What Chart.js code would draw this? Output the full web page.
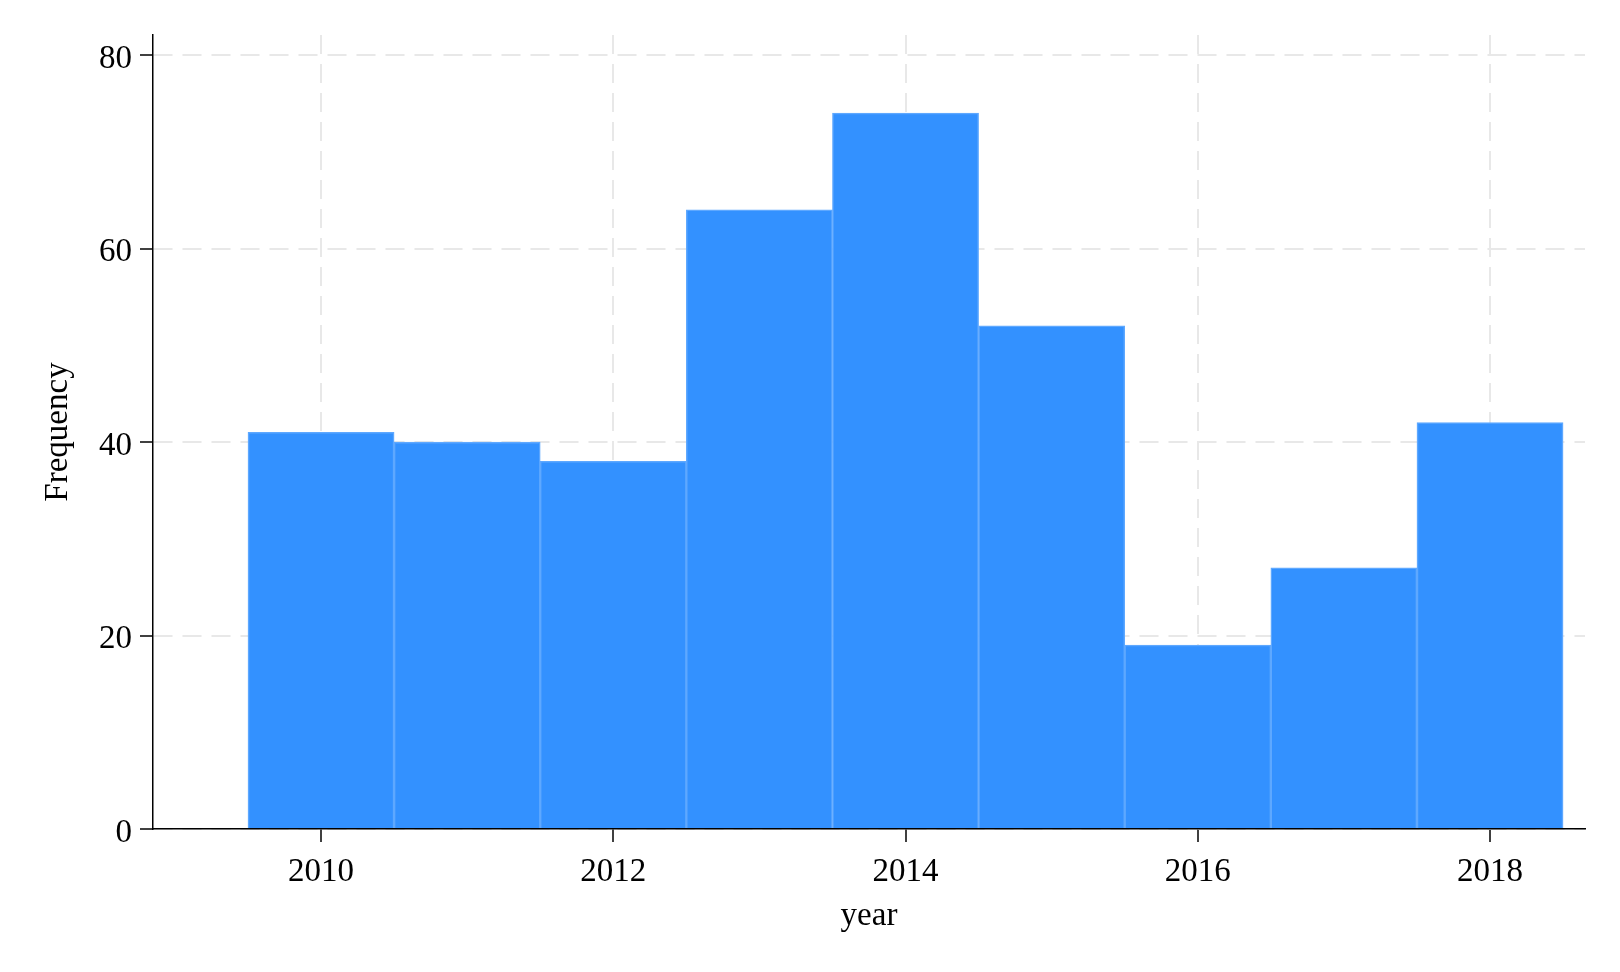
<!DOCTYPE html>
<html>
<head>
<meta charset="utf-8">
<script src="https://cdn.jsdelivr.net/npm/chart.js@4"></script>
<style>
  html, body { margin: 0; padding: 0; background: #fff; }
  #wrap { width: 1620px; height: 972px; }
</style>
</head>
<body>
<div id="wrap"><canvas id="histo" width="1620" height="972"></canvas></div>
<script>
// histogram bins (centre year) and counts
const years = [2010, 2011, 2012, 2013, 2014, 2015, 2016, 2017, 2018];
const counts = [41, 40, 38, 64, 74, 52, 19, 27, 42];
const xTicks = [2010, 2012, 2014, 2016, 2018];
const yTicks = [0, 20, 40, 60, 80];

const serif = "'Liberation Serif', 'DejaVu Serif', serif";
const gridGray = '#e8e8e8';

const ctx = document.getElementById('histo').getContext('2d');

new Chart(ctx, {
    type: 'bar',
    data: {
        datasets: [{
            label: 'Frequency',
            data: years.map((y, i) => ({ x: y, y: counts[i] })),
            backgroundColor: '#3391ff',
            borderColor: '#5ea8ff',
            borderWidth: 1.5,
            barPercentage: 1,
            categoryPercentage: 1
        }]
    },
    options: {
        responsive: false,
        animation: false,
        layout: {
            padding: { top: 35, right: 35, bottom: 0, left: 0 }
        },
        scales: {
            x: {
                type: 'linear',
                offset: false,
                min: 2008.85,
                max: 2018.65,
                afterBuildTicks: (s) => { s.ticks = xTicks.map(v => ({ value: v })); },
                afterFit: (s) => { s.height = 143; },
                border: { color: '#000', width: 1.5, dash: [19, 10] },
                grid: {
                    offset: false,
                    color: gridGray,
                    lineWidth: 2,
                    tickColor: '#000',
                    tickWidth: 1.5,
                    tickLength: 13,
                    tickBorderDash: []
                },
                ticks: {
                    color: '#000',
                    padding: 11,
                    maxRotation: 0,
                    font: { family: serif, size: 33 },
                    callback: (v) => String(v)
                },
                title: {
                    display: true,
                    text: 'year',
                    color: '#000',
                    font: { family: serif, size: 33 },
                    padding: { top: 0, bottom: 36 }
                }
            },
            y: {
                min: 0,
                max: 82.07,
                afterBuildTicks: (s) => { s.ticks = yTicks.map(v => ({ value: v })); },
                afterFit: (s) => { s.width = 153; },
                border: { color: '#000', width: 1.5, dash: [19, 10] },
                grid: {
                    color: gridGray,
                    lineWidth: 2,
                    tickColor: '#000',
                    tickWidth: 1.5,
                    tickLength: 13,
                    tickBorderDash: []
                },
                ticks: {
                    color: '#000',
                    padding: 8,
                    labelOffset: 4,
                    font: { family: serif, size: 33 }
                },
                title: {
                    display: true,
                    text: 'Frequency',
                    color: '#000',
                    font: { family: serif, size: 33 },
                    padding: { top: 39, bottom: 0 }
                }
            }
        },
        plugins: {
            legend: { display: false },
            tooltip: { enabled: false }
        }
    }
});
</script>
</body>
</html>
